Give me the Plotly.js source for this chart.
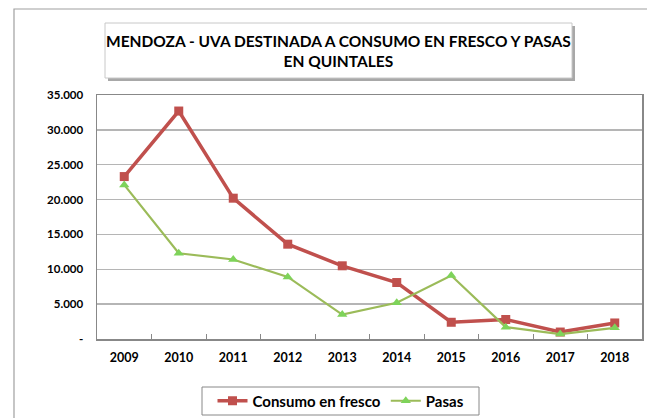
<!DOCTYPE html>
<html>
<head>
<meta charset="utf-8">
<script src="https://cdn.plot.ly/plotly-3.0.1.min.js"></script>
<style>html,body{margin:0;padding:0;background:#fff;}#chart{width:647px;height:418px;}</style>
</head>
<body>
<div id="chart"></div>
<script>
const years = ['2009','2010','2011','2012','2013','2014','2015','2016','2017','2018'];
const consumoFresco = [23300, 32700, 20200, 13600, 10500, 8100, 2400, 2800, 1000, 2300];
const pasas = [22100, 12300, 11400, 8900, 3500, 5200, 9100, 1700, 700, 1600];
const yTickVals = [0, 5000, 10000, 15000, 20000, 25000, 30000, 35000];
const yTickText = ['-', '5.000', '10.000', '15.000', '20.000', '25.000', '30.000', '35.000'];
const seriesNames = ['Consumo en fresco', 'Pasas'];
const titleText = 'MENDOZA - UVA DESTINADA A CONSUMO EN FRESCO Y PASAS<br>EN QUINTALES';

const FONT = 'Lato, "Open Sans", sans-serif';
const L = 97, R = 5, T = 95, B = 79, W = 647, H = 418;
const pw = W - L - R, ph = H - T - B;
const px = x => (x - L) / pw;
const py = y => (H - B - y) / ph;

const traces = [
  {x: years, y: consumoFresco, name: seriesNames[0], type: 'scatter', mode: 'lines+markers',
   line: {color: '#C0504D', width: 3.5}, marker: {symbol: 'square', size: 9, color: '#C0504D'}},
  {x: years, y: pasas, name: seriesNames[1], type: 'scatter', mode: 'lines+markers',
   line: {color: '#9BBB59', width: 2.2}, marker: {symbol: 'triangle-up', size: 9, color: '#7ED35A'}}
];

const layout = {
  width: W, height: H,
  margin: {l: L, r: R, t: T, b: B, autoexpand: false},
  paper_bgcolor: '#ffffff', plot_bgcolor: '#ffffff',
  font: {family: FONT, size: 11, color: '#000'},
  showlegend: true,
  legend: {orientation: 'h', x: px(341), xanchor: 'center', y: py(401), yanchor: 'middle',
    bgcolor: 'rgba(0,0,0,0)', borderwidth: 0, font: {family: FONT, size: 15, color: '#000', weight: 'bold'},
    itemwidth: 30, tracegroupgap: 0, valign: 'middle'},
  xaxis: {type: 'category', range: [-0.5, 9.5], showgrid: false, showline: true, linecolor: '#888', linewidth: 1.5,
    mirror: true, ticks: 'inside', tickson: 'boundaries', ticklen: 5, tickcolor: '#888', tickwidth: 1,
    tickfont: {family: FONT, size: 12.5, color: '#000', weight: 'bold'}, ticklabelstandoff: 6, fixedrange: true},
  yaxis: {range: [0, 35000], tickvals: yTickVals, ticktext: yTickText, showgrid: true, gridcolor: '#b5b5b5', gridwidth: 1.5,
    showline: true, linecolor: '#888', linewidth: 1.5, mirror: true, ticks: '', zeroline: false,
    tickfont: {family: FONT, size: 11.5, color: '#000', weight: 'bold'}, ticklabelstandoff: 10, fixedrange: true},
  shapes: [
    {type: 'rect', xref: 'paper', yref: 'paper', x0: px(14), x1: px(700), y0: py(9), y1: py(460),
     line: {color: '#a0a0a0', width: 1.2}, fillcolor: 'rgba(0,0,0,0)', layer: 'below'},
    {type: 'rect', xref: 'paper', yref: 'paper', x0: px(108), x1: px(575), y0: py(26), y1: py(81),
     line: {width: 0}, fillcolor: '#a8a8a8', layer: 'above'},
    {type: 'rect', xref: 'paper', yref: 'paper', x0: px(105), x1: px(572), y0: py(23), y1: py(78),
     line: {color: '#c8c8c8', width: 1}, fillcolor: '#ffffff', layer: 'above'},
    {type: 'rect', xref: 'paper', yref: 'paper', x0: px(202), x1: px(479), y0: py(387), y1: py(415),
     line: {color: '#888', width: 1}, fillcolor: 'rgba(0,0,0,0)', layer: 'above'}
  ],
  annotations: [
    {text: titleText, xref: 'paper', yref: 'paper', x: px(338.5), y: py(51), xanchor: 'center', yanchor: 'middle',
     showarrow: false, font: {family: FONT, size: 15.5, color: '#000', weight: 'bold'}}
  ]
};

Plotly.newPlot('chart', traces, layout, {displayModeBar: false, staticPlot: true});
</script>
</body>
</html>
